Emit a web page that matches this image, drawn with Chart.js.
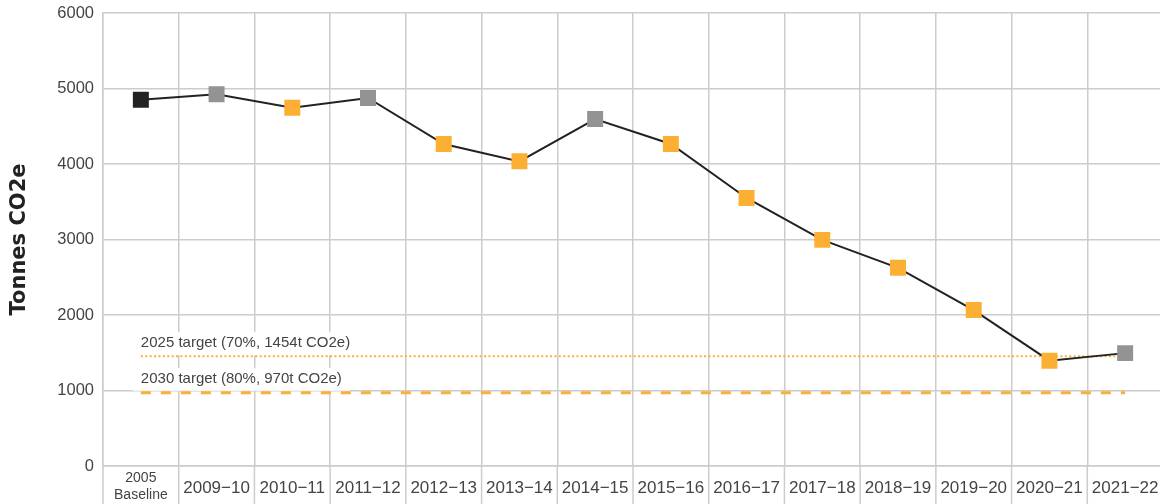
<!DOCTYPE html>
<html>
<head>
<meta charset="utf-8">
<script src="https://cdn.jsdelivr.net/npm/chart.js@4.4.1/dist/chart.umd.min.js"></script>
<style>
    html, body { margin: 0; padding: 0; background: #fff; overflow: hidden; }
    #chart { display: block; }
</style>
</head>
<body>
<canvas id="chart" width="1163" height="504"></canvas>
<script>
// === Dữ liệu ===
const years = [['2005', 'Baseline'], '2009−10', '2010−11', '2011−12', '2012−13', '2013−14', '2014−15',
    '2015−16', '2016−17', '2017−18', '2018−19', '2019−20', '2020−21', '2021−22'];
const emissions = [4850, 4925, 4745, 4875, 4265, 4035, 4595, 4265, 3550, 2995, 2625, 2065, 1395, 1495];
// loại điểm: baseline / grey / orange
const pointKinds = ['baseline', 'grey', 'orange', 'grey', 'orange', 'orange', 'grey',
    'orange', 'orange', 'orange', 'orange', 'orange', 'orange', 'grey'];
const yTicks = [0, 1000, 2000, 3000, 4000, 5000, 6000];
const target2025 = 1454;
const target2030 = 970;
const target2025Label = '2025 target (70%, 1454t CO2e)';
const target2030Label = '2030 target (80%, 970t CO2e)';

const ORANGE = '#fbb034';
const GRID = '#cccccc';
const kindColor = { baseline: '#222222', grey: '#939393', orange: ORANGE };
const FONT = "'Liberation Sans', Arial, sans-serif";

// Kéo dài các đường lưới dọc xuống vùng nhãn trục X
const extendGrid = {
    id: 'extendGrid',
    afterDraw(chart) {
        const x = chart.scales.x;
        const ctx = chart.ctx;
        const half = (x.getPixelForValue(1) - x.getPixelForValue(0)) / 2;
        ctx.save();
        ctx.strokeStyle = GRID;
        ctx.lineWidth = 1.5;
        for (let i = 0; i <= years.length; i++) {
            const px = x.getPixelForValue(i) - half;
            ctx.beginPath();
            ctx.moveTo(px, chart.chartArea.bottom);
            ctx.lineTo(px, chart.height);
            ctx.stroke();
        }
        ctx.restore();
    }
};

// Nhãn mục tiêu với nền trắng
const targetLabels = {
    id: 'targetLabels',
    beforeDatasetsDraw(chart) {
        const x = chart.scales.x, y = chart.scales.y;
        const ctx = chart.ctx;
        const x0 = x.getPixelForValue(0);
        ctx.save();
        ctx.font = '15px ' + FONT;
        ctx.textBaseline = 'middle';
        [[target2025, target2025Label, 13], [target2030, target2030Label, 14]].forEach(([v, txt, off]) => {
            const py = y.getPixelForValue(v) - off;
            const w = ctx.measureText(txt).width;
            ctx.fillStyle = '#ffffff';
            ctx.fillRect(x0 - 8, py - 11, w + 16, 23);
            ctx.fillStyle = '#444444';
            ctx.fillText(txt, x0, py);
        });
        ctx.restore();
    }
};

new Chart(document.getElementById('chart'), {
    type: 'line',
    data: {
        labels: years,
        datasets: [
            {
                data: emissions,
                borderColor: '#222222',
                borderWidth: 2,
                tension: 0,
                pointStyle: 'rect',
                pointRadius: 11.3,
                pointBorderWidth: 0,
                pointBackgroundColor: pointKinds.map(k => kindColor[k]),
                pointBorderColor: pointKinds.map(k => kindColor[k])
            },
            {
                data: [{ x: years[0], y: target2025 }, { x: years[years.length - 1], y: target2025 }],
                borderColor: ORANGE,
                borderWidth: 2,
                borderDash: [2, 2.4],
                pointRadius: 0
            },
            {
                data: [{ x: years[0], y: target2030 }, { x: years[years.length - 1], y: target2030 }],
                borderColor: ORANGE,
                borderWidth: 3,
                borderDash: [10, 10],
                pointRadius: 0
            }
        ]
    },
    options: {
        responsive: false,
        animation: false,
        layout: { padding: 0, autoPadding: false },
        plugins: { legend: { display: false }, tooltip: { enabled: false } },
        scales: {
            x: {
                type: 'category',
                offset: true,
                grid: { offset: true, color: GRID, lineWidth: 1.5, drawTicks: false },
                border: { color: GRID, width: 1.5 },
                ticks: {
                    color: '#444444',
                    // nhãn "2005 Baseline" nhỏ hơn các nhãn khác
                    font: (c) => c.index === 0
                        ? { family: FONT, size: 14, lineHeight: '17px' }
                        : { family: FONT, size: 17, lineHeight: '14px' },
                    padding: 12,
                    crossAlign: 'center',
                    maxRotation: 0,
                    autoSkip: false
                },
                afterFit: (axis) => {
                    axis.height = 38;
                    axis.paddingLeft = 0;
                    axis.paddingRight = 0;
                }
            },
            y: {
                min: 0,
                max: 6000,
                afterBuildTicks: (axis) => { axis.ticks = yTicks.map(v => ({ value: v })); },
                grid: { color: GRID, lineWidth: 1.5, drawTicks: false },
                border: { color: GRID, width: 1.5 },
                ticks: {
                    color: '#444444',
                    font: { family: FONT, size: 16.5 },
                    padding: 9,
                    callback: (v) => String(v)
                },
                title: {
                    display: true,
                    text: 'Tonnes CO2e',
                    color: '#222222',
                    font: { family: "'DejaVu Sans', sans-serif", size: 21, weight: 'bold' },
                    padding: { top: 7, bottom: 15 }
                },
                afterFit: (axis) => {
                    axis.width = 103;
                    axis.paddingTop = 13;
                    axis.paddingBottom = 0;
                }
            }
        }
    },
    plugins: [extendGrid, targetLabels]
});
</script>
</body>
</html>
